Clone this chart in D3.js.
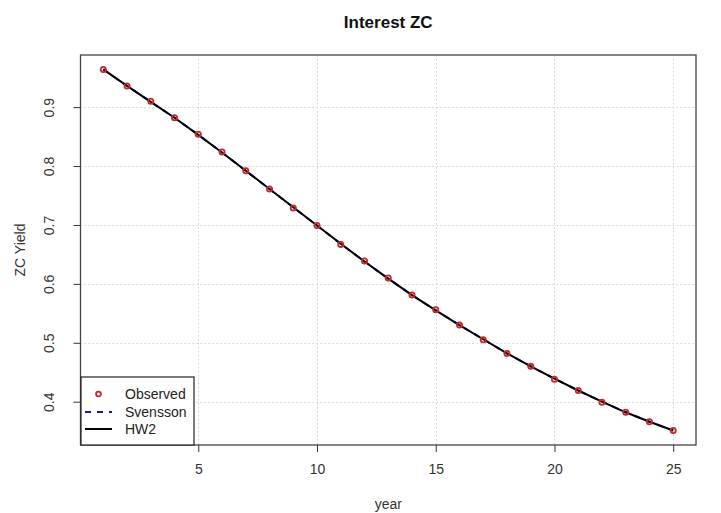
<!DOCTYPE html>
<html>
<head>
<meta charset="utf-8">
<script src="https://cdn.jsdelivr.net/npm/d3@7"></script>
<style>
  html, body { margin: 0; padding: 0; background: #fff; }
  svg { display: block; font-family: "Liberation Sans", Arial, sans-serif; }
</style>
</head>
<body>
<svg id="chart" width="721" height="513"></svg>
<script>
// Maturities (years) and zero-coupon prices
const years = d3.range(1, 26);
const observed = [0.964, 0.936, 0.910, 0.882, 0.854, 0.824, 0.792, 0.761, 0.729, 0.699,
                  0.667, 0.639, 0.610, 0.581, 0.556, 0.530, 0.505, 0.482, 0.460, 0.438,
                  0.419, 0.399, 0.382, 0.366, 0.351];
const svensson = [0.964, 0.936, 0.909, 0.882, 0.853, 0.823, 0.792, 0.761, 0.730, 0.699,
                  0.668, 0.638, 0.609, 0.581, 0.555, 0.530, 0.506, 0.482, 0.460, 0.439,
                  0.419, 0.400, 0.382, 0.366, 0.351];
const hw2      = [0.964, 0.936, 0.909, 0.882, 0.853, 0.823, 0.792, 0.761, 0.730, 0.699,
                  0.668, 0.638, 0.609, 0.581, 0.555, 0.530, 0.506, 0.482, 0.460, 0.439,
                  0.419, 0.400, 0.382, 0.366, 0.351];
const xTicks = [5, 10, 15, 20, 25];
const yTicks = [0.4, 0.5, 0.6, 0.7, 0.8, 0.9];
const legendLabels = ["Observed", "Svensson", "HW2"];

const svg = d3.select("#chart");
const plot = { left: 80.5, right: 696, top: 55, bottom: 445 };

// Axis ranges padded by 4% on each side
function padded(ext) {
  const d = (ext[1] - ext[0]) * 0.04;
  return [ext[0] - d, ext[1] + d];
}
const x = d3.scaleLinear().domain(padded(d3.extent(years))).range([plot.left, plot.right]);
const y = d3.scaleLinear()
  .domain(padded(d3.extent(observed.concat(svensson, hw2))))
  .range([plot.bottom, plot.top]);

// Dotted grid
const grid = svg.append("g").attr("stroke", "#d0d0d0").attr("stroke-width", 1)
  .attr("stroke-dasharray", "1.5,2.5");
grid.selectAll("line.gx").data(xTicks).join("line")
  .attr("x1", d => Math.round(x(d)) + 0.5).attr("x2", d => Math.round(x(d)) + 0.5)
  .attr("y1", plot.top).attr("y2", plot.bottom);
grid.selectAll("line.gy").data(yTicks).join("line")
  .attr("y1", d => Math.round(y(d)) + 0.5).attr("y2", d => Math.round(y(d)) + 0.5)
  .attr("x1", plot.left).attr("x2", plot.right);

// Axes
const xAxis = svg.append("g")
  .attr("transform", `translate(0,${plot.bottom})`)
  .call(d3.axisBottom(x).tickValues(xTicks).tickSize(7).tickPadding(12).tickFormat(d3.format("d")));
const yAxis = svg.append("g")
  .attr("transform", `translate(${plot.left},0)`)
  .call(d3.axisLeft(y).tickValues(yTicks).tickSize(7).tickFormat(d3.format(".1f")));
[xAxis, yAxis].forEach(g => {
  g.select(".domain").remove();
  g.selectAll(".tick line").attr("stroke", "#333");
  g.selectAll(".tick text").attr("fill", "#333").attr("font-size", 14)
    .attr("font-family", "Liberation Sans, Arial, sans-serif");
});
yAxis.selectAll(".tick text")
  .attr("x", null).attr("dy", null)
  .attr("text-anchor", "middle")
  .attr("transform", "translate(-31,0) rotate(-90)")
  .attr("dy", "0.35em");

// Series lines
const line = vals => d3.line().x((d, i) => x(years[i])).y(d => y(d))(vals);
svg.append("path").attr("d", line(svensson)).attr("fill", "none")
  .attr("stroke", "#1515c8").attr("stroke-width", 2).attr("stroke-dasharray", "6,6");
svg.append("path").attr("d", line(hw2)).attr("fill", "none")
  .attr("stroke", "#000").attr("stroke-width", 2);

// Observed points
svg.append("g").selectAll("circle").data(observed).join("circle")
  .attr("cx", (d, i) => x(years[i])).attr("cy", d => y(d)).attr("r", 2.6)
  .attr("fill", "none").attr("stroke", "#c42a2a").attr("stroke-width", 1.8);

// Plot frame
svg.append("rect")
  .attr("x", plot.left).attr("y", plot.top)
  .attr("width", plot.right - plot.left).attr("height", plot.bottom - plot.top)
  .attr("fill", "none").attr("stroke", "#444").attr("stroke-width", 1.3);

// Legend
const lg = svg.append("g");
lg.append("rect").attr("x", 81).attr("y", 377).attr("width", 113).attr("height", 68)
  .attr("fill", "#fff").attr("stroke", "#222").attr("stroke-width", 1.2);
const rowY = [394, 412, 429];
lg.append("circle").attr("cx", 98.5).attr("cy", rowY[0]).attr("r", 2.4)
  .attr("fill", "none").attr("stroke", "#c42a2a").attr("stroke-width", 1.8);
lg.append("line").attr("x1", 85).attr("x2", 112).attr("y1", rowY[1]).attr("y2", rowY[1])
  .attr("stroke", "#1515c8").attr("stroke-width", 2).attr("stroke-dasharray", "6,6");
lg.append("line").attr("x1", 85).attr("x2", 112).attr("y1", rowY[2]).attr("y2", rowY[2])
  .attr("stroke", "#000").attr("stroke-width", 2);
lg.selectAll("text").data(legendLabels).join("text")
  .attr("x", 125).attr("y", (d, i) => rowY[i]).attr("dy", "0.35em")
  .attr("font-size", 14).attr("fill", "#222").text(d => d);

// Titles
svg.append("text").attr("x", (plot.left + plot.right) / 2).attr("y", 28)
  .attr("text-anchor", "middle").attr("font-weight", "bold").attr("font-size", 17)
  .attr("fill", "#111").text("Interest ZC");
svg.append("text").attr("x", (plot.left + plot.right) / 2).attr("y", 509)
  .attr("text-anchor", "middle").attr("font-size", 14).attr("fill", "#333").text("year");
svg.append("text").attr("transform", `translate(20,${(plot.top + plot.bottom) / 2}) rotate(-90)`)
  .attr("text-anchor", "middle").attr("dy", "0.35em")
  .attr("font-size", 14).attr("fill", "#333").text("ZC Yield");
</script>
</body>
</html>
